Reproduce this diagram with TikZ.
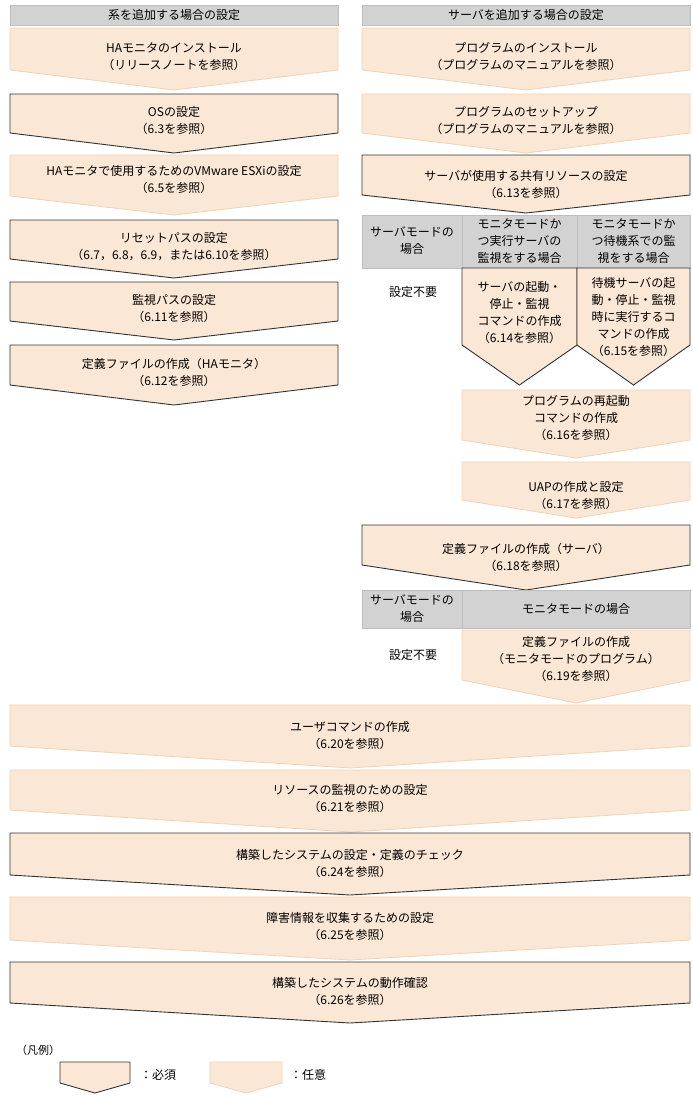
\documentclass[tikz,border=0pt]{standalone}
\usepackage{fontspec}
\setmainfont{Noto Sans CJK JP}
\begin{document}
\begin{tikzpicture}[x=1pt,y=-1pt,
  opt/.style={fill=beige,draw=beigeline,line width=0.8pt},
  req/.style={fill=beige,draw=reqline,line width=0.9pt},
  hdr/.style={fill=hgray,draw=hline,line width=0.6pt},
  txt/.style={align=center,font=\fontsize{12}{17}\selectfont,inner sep=0pt}]
\definecolor{beige}{HTML}{FBE7D5}
\definecolor{beigeline}{HTML}{F0D3B5}
\definecolor{reqline}{HTML}{333333}
\definecolor{hgray}{HTML}{D2D2D2}
\definecolor{hline}{HTML}{BEBEBE}
\newcommand\pent[6]{\path[#6] (#1,#2) -- (#3,#2) -- (#3,#4) -- ({(#1+#3)/2},#5) -- (#1,#4) -- cycle;}
\useasboundingbox (0,0) rectangle (693,1096);
% headers
\draw[hdr] (10,5) rectangle (338,25); \node[txt] (hl) at (174,15) {系を追加する場合の設定};
\draw[hdr] (362,5) rectangle (690,25); \node[txt] (hr) at (526,15) {サーバを追加する場合の設定};
% left column
\pent{10}{28}{338}{70}{90}{opt}  \node[txt] (l1) at (174,57) {HAモニタのインストール\\（リリースノートを参照）};
\pent{10}{94}{338}{133}{153}{req} \node[txt] (l2) at (174,121) {OSの設定\\（6.3を参照）};
\pent{10}{155}{338}{196}{215}{opt} \node[txt] (l3) at (174,180) {HAモニタで使用するためのVMware ESXiの設定\\（6.5を参照）};
\pent{10}{220}{338}{259}{278}{req} \node[txt] (l4) at (174,247) {リセットパスの設定\\（6.7，6.8，6.9，または6.10を参照）};
\pent{10}{282}{338}{321}{340}{req} \node[txt] (l5) at (174,309) {監視パスの設定\\（6.11を参照）};
\pent{10}{345}{338}{385}{405}{req} \node[txt] (l6) at (174,372) {定義ファイルの作成（HAモニタ）\\（6.12を参照）};
% right column
\pent{362}{28}{690}{70}{90}{opt}  \node[txt] (r1) at (526,57) {プログラムのインストール\\（プログラムのマニュアルを参照）};
\pent{362}{94}{690}{133}{153}{opt} \node[txt] (r2) at (526,121) {プログラムのセットアップ\\（プログラムのマニュアルを参照）};
\pent{362}{155}{690}{195}{213}{req} \node[txt] (r3) at (526,184) {サーバが使用する共有リソースの設定\\（6.13を参照）};
\draw[hdr] (362,215) rectangle (462,268); \node[txt] (h1) at (412,241) {サーバモードの\\場合};
\draw[hdr] (462,215) rectangle (577,268); \node[txt] (h2) at (519.5,241) {モニタモードか\\つ実行サーバの\\監視をする場合};
\draw[hdr] (577,215) rectangle (690,268); \node[txt] (h3) at (633.5,241) {モニタモードか\\つ待機系での監\\視をする場合};
\node[txt] (n1) at (413,292) {設定不要};
\pent{462}{268}{577}{345}{385}{req} \node[txt] (r4a) at (519.5,313) {サーバの起動・\\停止・監視\\コマンドの作成\\（6.14を参照）};
\pent{577}{268}{690}{345}{385}{req} \node[txt] (r4b) at (633.5,317) {待機サーバの起\\動・停止・監視\\時に実行するコ\\マンドの作成\\（6.15を参照）};
\pent{462}{390}{690}{440}{458}{opt} \node[txt] (r5) at (576,418) {プログラムの再起動\\コマンドの作成\\（6.16を参照）};
\pent{462}{462}{690}{500}{518}{opt} \node[txt] (r6) at (576,496) {UAPの作成と設定\\（6.17を参照）};
\pent{362}{525}{690}{565}{590}{req} \node[txt] (r7) at (526,557) {定義ファイルの作成（サーバ）\\（6.18を参照）};
\draw[hdr] (362,590) rectangle (462,628); \node[txt] (h4) at (412,609) {サーバモードの\\場合};
\draw[hdr] (462,590) rectangle (690,628); \node[txt] (h5) at (576,609) {モニタモードの場合};
\node[txt] (n2) at (413,655) {設定不要};
\pent{462}{630}{690}{680}{703}{opt} \node[txt] (r8) at (576,659) {定義ファイルの作成\\（モニタモードのプログラム）\\（6.19を参照）};
% full width
\pent{10}{705}{690}{746}{768}{opt} \node[txt] (f1) at (350,736) {ユーザコマンドの作成\\（6.20を参照）};
\pent{10}{770}{690}{810}{832}{opt} \node[txt] (f2) at (350,799) {リソースの監視のための設定\\（6.21を参照）};
\pent{10}{833}{690}{875}{895}{req} \node[txt] (f3) at (350,863) {構築したシステムの設定・定義のチェック\\（6.24を参照）};
\pent{10}{897}{690}{940}{960}{opt} \node[txt] (f4) at (350,927) {障害情報を収集するための設定\\（6.25を参照）};
\pent{10}{962}{690}{1003}{1023}{req} \node[txt] (f5) at (350,991) {構築したシステムの動作確認\\（6.26を参照）};
% legend
\node[txt,anchor=west,font=\fontsize{11}{13}\selectfont] (lg) at (16,1050) {（凡例）};
\pent{60}{1062}{130}{1083}{1093}{req} \node[txt,anchor=west] (lg1) at (140,1075) {：必須};
\pent{210}{1062}{282}{1083}{1093}{opt} \node[txt,anchor=west] (lg2) at (290,1075) {：任意};
\end{tikzpicture}
\end{document}
